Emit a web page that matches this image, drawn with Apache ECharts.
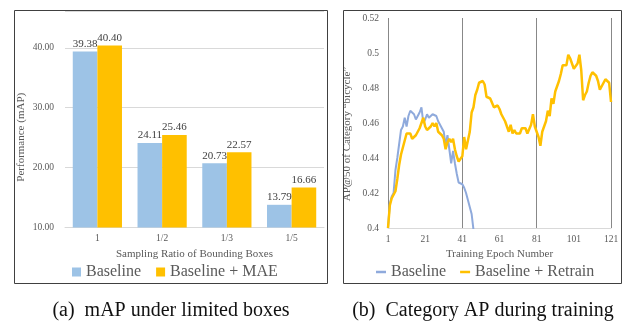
<!DOCTYPE html>
<html>
<head>
<meta charset="utf-8">
<script src="https://cdn.jsdelivr.net/npm/echarts@6/dist/echarts.min.js"></script>
<style>
html,body{margin:0;padding:0;background:#fff;}
#chart{width:623px;height:322px;}
</style>
</head>
<body>
<div id="chart"></div>
<script>
// ----- Chart (a) data -----
const ratioCategories = ['1', '1/2', '1/3', '1/5'];
const baselineMAP = [39.38, 24.11, 20.73, 13.79];
const maeMAP = [40.40, 25.46, 22.57, 16.66];

// ----- Chart (b) data (AP@50 per epoch, starting at epoch 1) -----
const baselineAP = [
  0.400, 0.414, 0.418, 0.420, 0.433, 0.440, 0.448, 0.456, 0.458, 0.463,
  0.458, 0.464, 0.467, 0.466, 0.465, 0.462, 0.462, 0.466, 0.469, 0.460,
  0.462, 0.465, 0.463, 0.463, 0.465, 0.466, 0.464, 0.461, 0.459, 0.457,
  0.455, 0.447, 0.453, 0.445, 0.437, 0.444, 0.437, 0.431, 0.426, 0.425,
  0.425, 0.423, 0.420, 0.416, 0.412, 0.408, 0.399
];
const retrainAP = [
  0.400, 0.413, 0.417, 0.419, 0.421, 0.428, 0.436, 0.442, 0.446, 0.450,
  0.454, 0.455, 0.454, 0.451, 0.450, 0.453, 0.455, 0.457, 0.460, 0.463,
  0.458, 0.456, 0.457, 0.458, 0.460, 0.458, 0.460, 0.455, 0.456, 0.453,
  0.451, 0.445, 0.449, 0.451, 0.449, 0.451, 0.445, 0.441, 0.438, 0.439,
  0.441, 0.452, 0.445, 0.450, 0.455, 0.466, 0.469, 0.476, 0.479, 0.483,
  0.484, 0.484, 0.482, 0.475, 0.476, 0.474, 0.473, 0.469, 0.470, 0.470,
  0.468, 0.465, 0.466, 0.461, 0.462, 0.455, 0.459, 0.454, 0.456, 0.454,
  0.453, 0.454, 0.457, 0.458, 0.457, 0.454, 0.454, 0.459, 0.465, 0.458,
  0.457, 0.452, 0.447, 0.455, 0.456, 0.461, 0.467, 0.464, 0.474, 0.471,
  0.478, 0.481, 0.484, 0.488, 0.493, 0.492, 0.493, 0.499, 0.497, 0.496,
  0.491, 0.492, 0.494, 0.499, 0.490, 0.473, 0.476, 0.478, 0.483, 0.487,
  0.489, 0.488, 0.487, 0.484, 0.479, 0.480, 0.483, 0.485, 0.484, 0.483,
  0.472
];
const firstEpoch = 1;

const toPairs = arr => arr.map((v, i) => [firstEpoch + i, v]);

const serif = 'Liberation Serif';
const gray = '#595959';
const blueBar = '#9DC3E6';
const yellow = '#FFC000';
const blueLine = '#8FAADC';

const chart = echarts.init(document.getElementById('chart'), null, {renderer: 'canvas'});

const option = {
  backgroundColor: '#fff',
  animation: false,
  textStyle: {fontFamily: serif},
  grid: [
    {left: 65, right: 299, top: 11, bottom: 94.5},
    {left: 388, right: 12, top: 18, bottom: 94}
  ],
  legend: [
    {
      left: 72, top: 264, padding: 0,
      itemWidth: 9, itemHeight: 9, itemGap: 15,
      icon: 'rect',
      textStyle: {fontFamily: serif, fontSize: 16, color: gray},
      data: [
        {name: 'Baseline', itemStyle: {color: blueBar}},
        {name: 'Baseline + MAE', itemStyle: {color: yellow}}
      ],
      selectedMode: false
    },
    {
      left: 376, top: 264, padding: 0,
      itemWidth: 10, itemHeight: 2.5, itemGap: 14,
      icon: 'rect',
      textStyle: {fontFamily: serif, fontSize: 16, color: gray},
      data: [
        {name: 'Baseline', itemStyle: {color: blueLine}},
        {name: 'Baseline + Retrain', itemStyle: {color: yellow}}
      ],
      selectedMode: false
    }
  ],
  xAxis: [
    {
      type: 'category', gridIndex: 0, data: ratioCategories,
      axisLine: {show: true, lineStyle: {color: '#d9d9d9'}},
      axisTick: {show: false},
      axisLabel: {color: gray, fontSize: 9.5, fontFamily: serif, margin: 6},
      name: 'Sampling Ratio of Bounding Boxes',
      nameLocation: 'middle', nameGap: 16,
      nameTextStyle: {color: gray, fontSize: 11, fontFamily: serif}
    },
    {
      type: 'value', gridIndex: 1, min: 1, max: 121, interval: 20,
      axisLine: {show: true, lineStyle: {color: '#d9d9d9'}},
      axisTick: {show: false},
      splitLine: {show: false},
      axisLabel: {color: gray, fontSize: 9.5, fontFamily: serif, margin: 6},
      name: 'Training Epoch Number',
      nameLocation: 'middle', nameGap: 16,
      nameTextStyle: {color: gray, fontSize: 11, fontFamily: serif}
    },
    {
      type: 'value', gridIndex: 1, min: 1, max: 121, interval: 40,
      axisLine: {show: false}, axisTick: {show: false}, axisLabel: {show: false},
      splitLine: {show: true, lineStyle: {color: '#888888', width: 1}}
    }
  ],
  yAxis: [
    {
      type: 'value', gridIndex: 0, min: 10, max: 46.15, interval: 10,
      axisLine: {show: false}, axisTick: {show: false},
      splitLine: {show: true, lineStyle: {color: '#d9d9d9'}},
      axisLabel: {color: gray, fontSize: 9.5, fontFamily: serif, margin: 11,
        showMaxLabel: false,
        formatter: v => v.toFixed(2)},
      name: 'Performance (mAP)',
      nameLocation: 'middle', nameGap: 38,
      nameTextStyle: {color: gray, fontSize: 11, fontFamily: serif, padding: [0, 36, 0, 0]}
    },
    {
      type: 'value', gridIndex: 1, min: 0.4, max: 0.52, interval: 0.02,
      axisLine: {show: false}, axisTick: {show: false},
      splitLine: {show: false},
      axisLabel: {color: gray, fontSize: 9.5, fontFamily: serif, margin: 9},
      name: 'AP@50 of Category \u201cbicycle\u201d',
      nameLocation: 'middle', nameGap: 35,
      nameTextStyle: {color: gray, fontSize: 11, fontFamily: serif, padding: [0, 22, 0, 0]}
    }
  ],
  series: [
    {
      name: 'Baseline', type: 'bar', xAxisIndex: 0, yAxisIndex: 0,
      data: baselineMAP,
      barGap: '0%', barCategoryGap: '24%',
      itemStyle: {color: blueBar},
      label: {show: true, position: 'top', distance: 2, color: '#404040',
        fontSize: 11, fontFamily: serif, formatter: p => p.value.toFixed(2)}
    },
    {
      name: 'Baseline + MAE', type: 'bar', xAxisIndex: 0, yAxisIndex: 0,
      data: maeMAP,
      barGap: '0%', barCategoryGap: '24%',
      itemStyle: {color: yellow},
      label: {show: true, position: 'top', distance: 2, color: '#404040',
        fontSize: 11, fontFamily: serif, formatter: p => p.value.toFixed(2)}
    },
    {
      name: 'Baseline', type: 'line', xAxisIndex: 1, yAxisIndex: 1,
      data: toPairs(baselineAP), showSymbol: false, symbol: 'none',
      lineStyle: {color: blueLine, width: 2}, itemStyle: {color: blueLine}
    },
    {
      name: 'Baseline + Retrain', type: 'line', xAxisIndex: 1, yAxisIndex: 1,
      data: toPairs(retrainAP), showSymbol: false, symbol: 'none',
      lineStyle: {color: yellow, width: 2.5}, itemStyle: {color: yellow}
    }
  ],
  graphic: [
    {type: 'rect', shape: {x: 14.5, y: 10.5, width: 313, height: 273},
      style: {fill: 'none', stroke: '#404040', lineWidth: 1}, silent: true, z: 100},
    {type: 'rect', shape: {x: 343.5, y: 10.5, width: 278, height: 273},
      style: {fill: 'none', stroke: '#404040', lineWidth: 1}, silent: true, z: 100},
    {type: 'text', x: 171, y: 311, style: {text: '(a)  mAP under limited boxes',
      fontFamily: serif, fontSize: 20, fill: '#111', align: 'center', verticalAlign: 'middle'}},
    {type: 'text', x: 483, y: 311, style: {text: '(b)  Category AP during training',
      fontFamily: serif, fontSize: 20, fill: '#111', align: 'center', verticalAlign: 'middle'}}
  ]
};

chart.setOption(option);
</script>
</body>
</html>
